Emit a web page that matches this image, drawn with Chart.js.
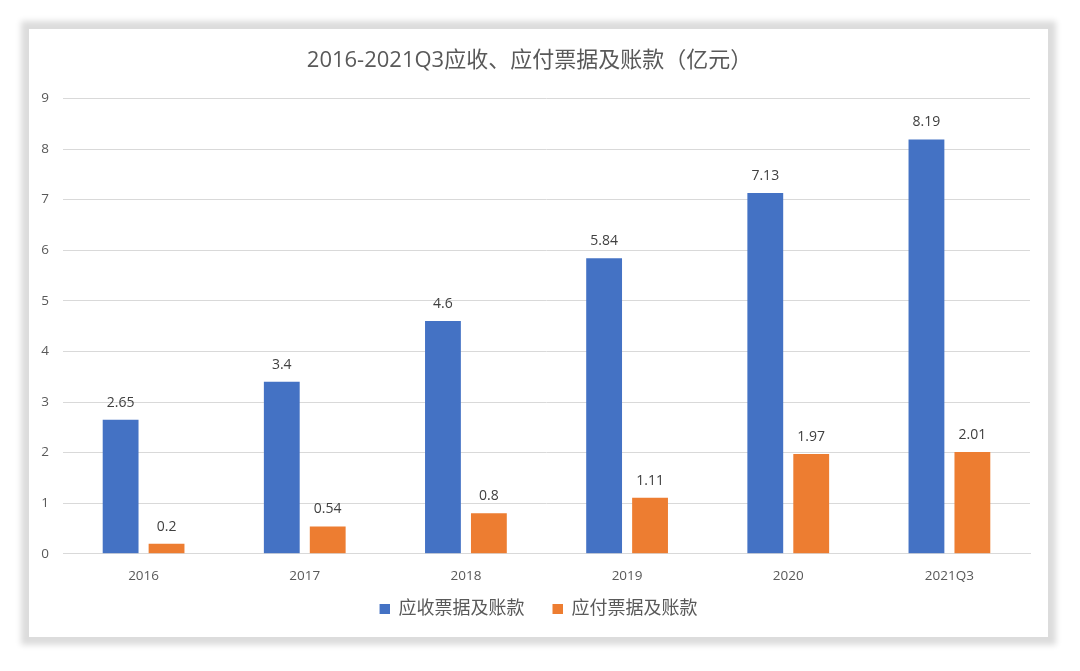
<!DOCTYPE html>
<html>
<head>
<meta charset="utf-8">
<script src="https://cdn.jsdelivr.net/npm/chart.js@4"></script>
<style>
    html, body { margin: 0; padding: 0; background: #ffffff; }
    body { width: 1080px; height: 671px; position: relative; overflow: hidden; }
    #card {
        position: absolute; left: 29px; top: 29px; width: 1019px; height: 608px;
        background: #ffffff;
        box-shadow: 0 0 6px 8px #dcdcdc;
    }
    #chart { display: block; }
</style>
</head>
<body>
<div id="card"><canvas id="chart" width="1019" height="608"></canvas></div>
<script>
const categories = ['2016', '2017', '2018', '2019', '2020', '2021Q3'];
const receivables = [2.65, 3.4, 4.6, 5.84, 7.13, 8.19];
const payables = [0.2, 0.54, 0.8, 1.11, 1.97, 2.01];

const FONT = '"Open Sans", "Noto Sans CJK SC", sans-serif';
const BLUE = '#4472C4';
const ORANGE = '#ED7D31';

// legend swatch: small square with some empty room on its left,
// so the two legend items sit further apart like the original
function swatch(color) {
    const c = document.createElement('canvas');
    c.width = 28;
    c.height = 10;
    const g = c.getContext('2d');
    g.fillStyle = color;
    g.fillRect(18, 0, 10, 10);
    return c;
}

// simple value labels above each bar
const barLabels = {
    id: 'barLabels',
    afterDatasetsDraw(chart) {
        const { ctx } = chart;
        ctx.save();
        ctx.font = '14px ' + FONT;
        ctx.fillStyle = '#404040';
        ctx.textAlign = 'center';
        ctx.textBaseline = 'middle';
        chart.data.datasets.forEach((ds, i) => {
            chart.getDatasetMeta(i).data.forEach((bar, j) => {
                ctx.fillText(String(ds.data[j]), bar.x, bar.y - 17);
            });
        });
        ctx.restore();
    },
};

new Chart(document.getElementById('chart').getContext('2d'), {
    type: 'bar',
    data: {
        labels: categories,
        datasets: [
            { label: '应收票据及账款', data: receivables, backgroundColor: BLUE, pointStyle: swatch(BLUE) },
            { label: '应付票据及账款', data: payables, backgroundColor: ORANGE, pointStyle: swatch(ORANGE) },
        ],
    },
    options: {
        responsive: false,
        animation: false,
        categoryPercentage: 0.57,
        barPercentage: 0.78,
        layout: { padding: { left: 0, right: 18, top: 0, bottom: 9 } },
        plugins: {
            title: {
                display: true,
                text: '2016-2021Q3应收、应付票据及账款（亿元）',
                color: '#595959',
                font: { family: FONT, size: 22, weight: 'normal' },
                padding: { top: 19, bottom: 24 },
            },
            legend: {
                position: 'bottom',
                labels: {
                    color: '#595959',
                    font: { family: FONT, size: 18 },
                    usePointStyle: true,
                    pointStyleWidth: 28,
                    boxHeight: 10,
                    padding: 10,
                },
            },
            tooltip: { enabled: false },
        },
        scales: {
            x: {
                grid: { display: false },
                border: { color: '#d9d9d9' },
                ticks: { color: '#595959', font: { family: FONT, size: 13.5 }, padding: 6 },
            },
            y: {
                min: 0,
                max: 9,
                afterFit(scale) { scale.width = 34; },
                grid: { color: '#d9d9d9', drawTicks: false },
                border: { display: false },
                ticks: { stepSize: 1, color: '#595959', font: { family: FONT, size: 13.5 }, padding: 14 },
            },
        },
    },
    plugins: [barLabels],
});
</script>
</body>
</html>
